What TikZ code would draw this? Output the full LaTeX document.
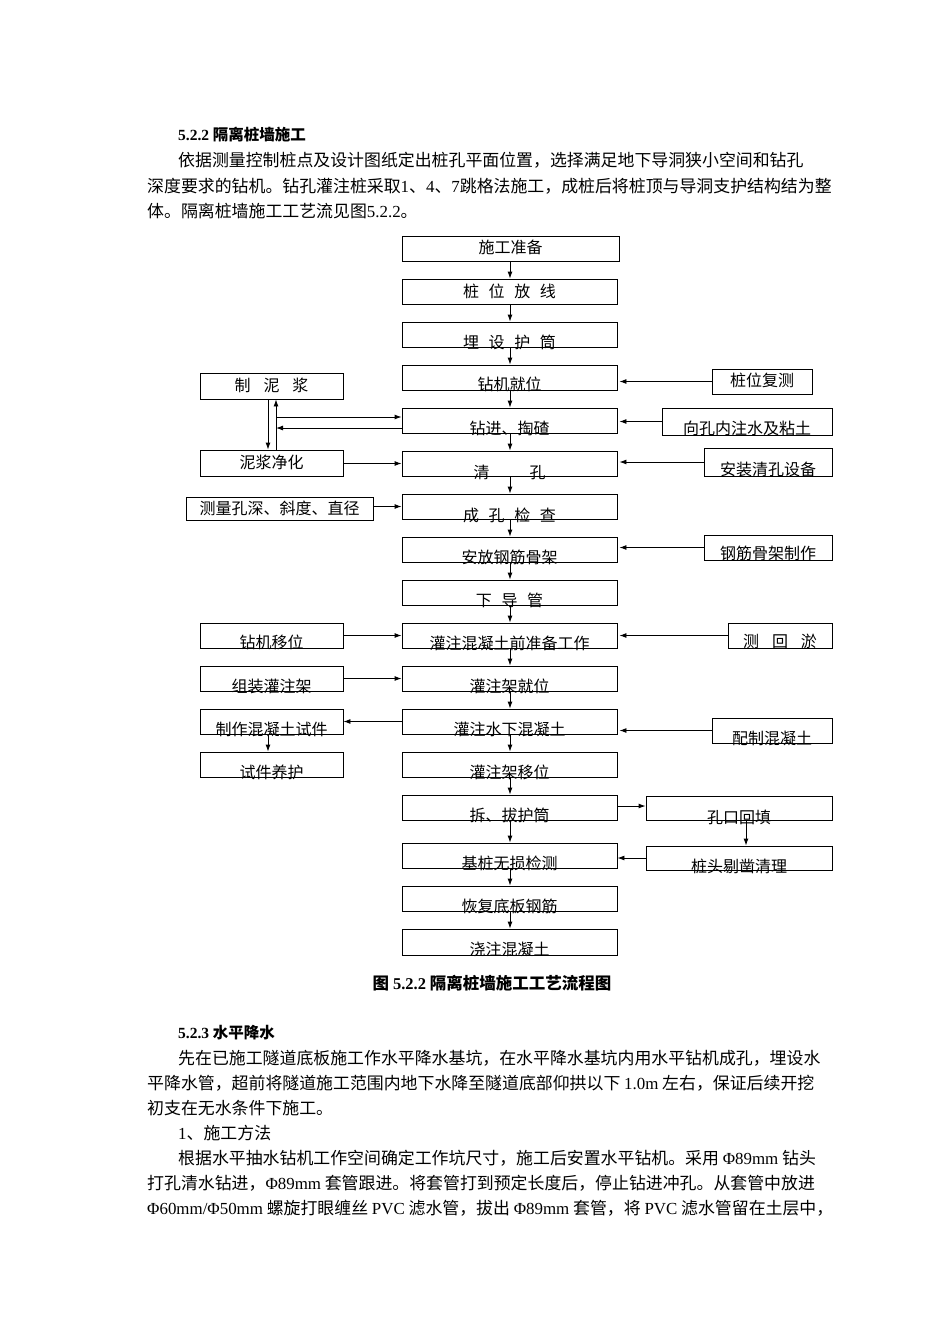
\documentclass[tikz,border=0pt]{standalone}
\usepackage{fontspec}
\setmainfont{Noto Sans CJK SC}
\newfontfamily\lat{Liberation Serif}
\usetikzlibrary{arrows.meta}
\begin{document}
\begin{tikzpicture}[x=1pt,y=-1pt,
  bx/.style={draw,line width=0.9pt},
  lbl/.style={font=\fontsize{16}{16}\selectfont,inner sep=0pt},
  ar/.style={-{Latex[length=7pt,width=5pt]},line width=0.9pt},
  ln/.style={line width=0.8pt},
  para/.style={anchor=west,inner sep=0pt,font=\fontsize{16.9}{17}\selectfont}]
\useasboundingbox[fill=white] (0,0) rectangle (950,1344);
% text above
\node[para,font=\fontsize{15.5}{16}\selectfont\bfseries] (h1) at (178,135) {{\lat 5.2.2} 隔离桩墙施工};
\node[para] (p1) at (178,160) {依据测量控制桩点及设计图纸定出桩孔平面位置，选择满足地下导洞狭小空间和钻孔};
\node[para] (p2) at (147,186) {深度要求的钻机。钻孔灌注桩采取{\lat 1}、{\lat 4}、{\lat 7}跳格法施工，成桩后将桩顶与导洞支护结构结为整};
\node[para] (p3) at (147,211) {体。隔离桩墙施工工艺流见图{\lat 5.2.2}。};
\foreach \n/\a/\b/\c/\d/\t/\ty in {
 c1/402/236/619/261/施工准备/247,
 c2/402/279/617/304/桩\hspace{0.6em}位\hspace{0.6em}放\hspace{0.6em}线/291,
 c3/402/322/617/347/埋\hspace{0.6em}设\hspace{0.6em}护\hspace{0.6em}筒/342,
 c4/402/365/617/390/钻机就位/384,
 c5/402/408/617/433/钻进、掏碴/428,
 c6/402/451/617/476/清\hspace{2.5em}孔/472,
 c7/402/494/617/519/成\hspace{0.6em}孔\hspace{0.6em}检\hspace{0.6em}查/515,
 c8/402/537/617/562/安放钢筋骨架/557,
 c9/402/580/617/605/下\hspace{0.6em}导\hspace{0.6em}管/600,
 c10/402/623/617/648/灌注混凝土前准备工作/643,
 c11/402/666/617/691/灌注架就位/686,
 c12/402/709/617/734/灌注水下混凝土/729,
 c13/402/752/617/777/灌注架移位/772,
 c14/402/795/617/820/拆、拔护筒/815,
 c15/402/843/617/868/基桩无损检测/863,
 c16/402/886/617/911/恢复底板钢筋/906,
 c17/402/929/617/955/浇注混凝土/949,
 l1/200/373/343/399/制\hspace{0.8em}泥\hspace{0.8em}浆/385,
 l2/200/450/343/476/泥浆净化/462,
 l3/186/497/373/520/测量孔深、斜度、直径/508,
 l4/200/623/343/648/钻机移位/642,
 l5/200/666/343/691/组装灌注架/686,
 l6/200/709/343/734/制作混凝土试件/729,
 l7/200/752/343/777/试件养护/772,
 r1/712/369/812/394/桩位复测/380,
 r2/662/408/832/435/向孔内注水及粘土/428,
 r3/704/448/832/476/安装清孔设备/469,
 r4/704/535/832/560/钢筋骨架制作/553,
 r5/728/623/832/648/测\hspace{0.8em}回\hspace{0.8em}淤/641,
 r6/712/718/832/743/配制混凝土/738,
 r7/646/796/832/820/孔口回填/817,
 r8/646/846/832/870/桩头剔凿清理/866}
{
 \node[bx,minimum width={\c-\a},minimum height={\d-\b},inner sep=0pt] (\n) at ({(\a+\c)/2},{(\b+\d)/2}) {};
 \node[lbl] (\n t) at ({(\a+\c)/2},\ty) {\t};
}
\foreach \i [evaluate=\i as \j using int(\i+1)] in {1,...,16}
  \draw[ar] (c\i.south -| 510,0) -- (c\j.north -| 510,0);
\foreach \r/\c in {r1/c4,r2/c5,r3/c6,r4/c8,r5/c10,r6/c12}
  \draw[ar] (\r.west) -- (\r.west -| c1.east);
\foreach \l/\c in {l2/c6,l3/c7,l4/c10,l5/c11}
  \draw[ar] (\l.east |- \c.west) -- (\c.west);
\draw[ar] (c12.west) -- (l6.east |- c12.west);
\draw[ar] (l6.south -| 268,0) -- (l7.north -| 268,0);
\draw[ar] (l1.south -| 268,0) -- (l2.north -| 268,0);
\draw[ar] (l2.north -| 276,0) -- (l1.south -| 276,0);
\coordinate (m1) at (276,417);
\coordinate (m2) at (276,428);
\draw[ar] (m1) -- (m1 -| c5.west);
\draw[ar] (m2 -| c5.west) -- (m2);
\draw[ar] (c14.east |- 0,806) -- (r7.west |- 0,806);
\draw[ar] (r7.south -| 746,0) -- (r8.north -| 746,0);
\draw[ar] (r8.west) -- (r8.west -| c15.east);
\node[inner sep=0pt,font=\fontsize{16.5}{17}\selectfont\bfseries] (cap) at (492,983) {图 {\lat 5.2.2} 隔离桩墙施工工艺流程图};
\node[para,font=\fontsize{15.5}{16}\selectfont\bfseries] (h2) at (178,1033) {{\lat 5.2.3} 水平降水};
\node[para] (q1) at (178,1058) {先在已施工隧道底板施工作水平降水基坑，在水平降水基坑内用水平钻机成孔，埋设水};
\node[para] (q2) at (147,1083) {平降水管，超前将隧道施工范围内地下水降至隧道底部仰拱以下 {\lat 1.0m} 左右，保证后续开挖};
\node[para] (q3) at (147,1108) {初支在无水条件下施工。};
\node[para] (q4) at (178,1133) {{\lat 1}、施工方法};
\node[para] (q5) at (178,1158) {根据水平抽水钻机工作空间确定工作坑尺寸，施工后安置水平钻机。采用 {\lat Φ89mm} 钻头};
\node[para] (q6) at (147,1183) {打孔清水钻进，{\lat Φ89mm} 套管跟进。将套管打到预定长度后，停止钻进冲孔。从套管中放进};
\node[para] (q7) at (147,1208) {{\lat Φ60mm/Φ50mm} 螺旋打眼缠丝 {\lat PVC} 滤水管，拔出 {\lat Φ89mm} 套管，将 {\lat PVC} 滤水管留在土层中，};
\end{tikzpicture}
\end{document}
